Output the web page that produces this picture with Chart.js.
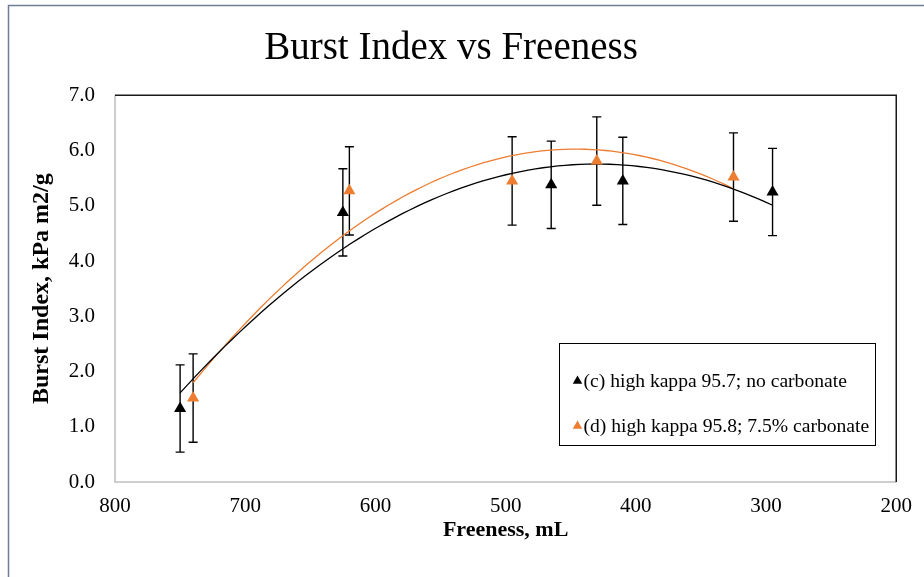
<!DOCTYPE html>
<html><head><meta charset="utf-8">
<script src="https://cdn.jsdelivr.net/npm/chart.js@4"></script>
<style>html,body{margin:0;padding:0;background:#fff}canvas{display:block}</style>
</head><body>
<canvas id="c" width="924" height="577"></canvas>
<script>
// ---- data ----
const chartTitle = 'Burst Index vs Freeness';
const xAxisTitle = 'Freeness, mL';
const yAxisTitle = 'Burst Index, kPa m2/g';
const seriesNames = ['(c) high kappa 95.7; no carbonate', '(d) high kappa 95.8; 7.5% carbonate'];
const freenessC = [750, 625, 465, 410, 295];
const burstC    = [1.33, 4.88, 5.38, 5.45, 5.25];
const errorC    = [0.79, 0.79, 0.79, 0.79, 0.79];
const freenessD = [740, 620, 495, 430, 325];
const burstD    = [1.52, 5.27, 5.45, 5.81, 5.52];
const errorD    = [0.80, 0.80, 0.80, 0.80, 0.80];
const xTicks = [800, 700, 600, 500, 400, 300, 200];
const yTicks = [0, 1, 2, 3, 4, 5, 6, 7];
const colors = ['#000000', '#ED7D31'];

// Excel-style 2nd-order polynomial trendline (least squares on the series values)
function polyfit2(xs, ys) {
  let S = [0,0,0,0,0], T = [0,0,0];
  for (let i = 0; i < xs.length; i++) {
    let p = 1;
    for (let k = 0; k < 5; k++) { S[k] += p; if (k < 3) T[k] += p * ys[i]; p *= xs[i]; }
  }
  const A = [[S[0],S[1],S[2],T[0]],[S[1],S[2],S[3],T[1]],[S[2],S[3],S[4],T[2]]];
  for (let c = 0; c < 3; c++) {
    for (let r = c + 1; r < 3; r++) {
      const f = A[r][c] / A[c][c];
      for (let k = c; k < 4; k++) A[r][k] -= f * A[c][k];
    }
  }
  const coef = [0,0,0];
  for (let r = 2; r >= 0; r--) {
    let s = A[r][3];
    for (let k = r + 1; k < 3; k++) s -= A[r][k] * coef[k];
    coef[r] = s / A[r][r];
  }
  return coef;
}
function trend(xs, ys) {
  const x0 = 500;
  const c = polyfit2(xs.map(v => (v - x0) / 100), ys);
  const lo = Math.min(...xs), hi = Math.max(...xs);
  const pts = [];
  const n = 80;
  for (let i = 0; i <= n; i++) {
    const x = hi - (hi - lo) * i / n;
    const u = (x - x0) / 100;
    pts.push({x: x, y: c[0] + c[1] * u + c[2] * u * u});
  }
  return pts;
}
const toPts = (xs, ys) => xs.map((x, i) => ({x: x, y: ys[i]}));

Chart.defaults.font.family = "'Liberation Serif', 'Times New Roman', serif";
Chart.defaults.color = '#000';

const errorBars = {
  id: 'errorBars',
  beforeDatasetsDraw(chart) {
    const {ctx, scales: {x, y}} = chart;
    ctx.save();
    ctx.strokeStyle = '#000';
    ctx.lineWidth = 1.4;
    chart.data.datasets.forEach(ds => {
      if (!ds.errors) return;
      ds.data.forEach((p, i) => {
        const e = ds.errors[i];
        const px = x.getPixelForValue(p.x);
        const y1 = y.getPixelForValue(p.y + e), y2 = y.getPixelForValue(p.y - e);
        ctx.beginPath();
        ctx.moveTo(px, y1); ctx.lineTo(px, y2);
        ctx.moveTo(px - 4.5, y1); ctx.lineTo(px + 4.5, y1);
        ctx.moveTo(px - 4.5, y2); ctx.lineTo(px + 4.5, y2);
        ctx.stroke();
      });
    });
    ctx.restore();
  }
};

const frame = {
  id: 'frame',
  beforeDatasetsDraw(chart) {
    const {ctx, chartArea: a} = chart;
    ctx.save();
    ctx.lineWidth = 1.5;
    ctx.strokeStyle = '#BFBFBF';
    ctx.beginPath();
    ctx.moveTo(a.left, a.top); ctx.lineTo(a.left, a.bottom); ctx.lineTo(a.right, a.bottom);
    ctx.stroke();
    ctx.strokeStyle = '#1a1a1a';
    ctx.beginPath();
    ctx.moveTo(a.left, a.top); ctx.lineTo(a.right, a.top); ctx.lineTo(a.right, a.bottom);
    ctx.stroke();
    ctx.restore();
  },
  afterDraw(chart) {
    const {ctx} = chart;
    ctx.save();
    ctx.strokeStyle = '#6F7C93';
    ctx.lineWidth = 1.5;
    ctx.strokeRect(8.5, 5.5, 1000, 1000);
    // legend box
    const bx = 559.5, by = 343.5, bw = 316, bh = 102;
    ctx.fillStyle = '#fff';
    ctx.fillRect(bx, by, bw, bh);
    ctx.strokeStyle = '#000';
    ctx.lineWidth = 1;
    ctx.strokeRect(bx, by, bw, bh);
    ctx.font = "19.6px 'Liberation Serif'";
    ctx.textBaseline = 'middle';
    ctx.textAlign = 'left';
    const rows = [382, 427];
    seriesNames.forEach((name, i) => {
      const mx = 577.5, my = rows[i] - 1, r = 5.5;
      ctx.fillStyle = colors[i];
      ctx.beginPath();
      ctx.moveTo(mx, my - r);
      ctx.lineTo(mx + r * 0.866, my + r * 0.5);
      ctx.lineTo(mx - r * 0.866, my + r * 0.5);
      ctx.closePath();
      ctx.fill();
      ctx.fillStyle = '#000';
      ctx.fillText(name, 583.5, rows[i]);
    });
    ctx.restore();
  }
};

new Chart(document.getElementById('c'), {
  data: {
    datasets: [
      {type: 'scatter', label: seriesNames[0], data: toPts(freenessC, burstC), errors: errorC,
       pointStyle: 'triangle', pointRadius: 7, pointHoverRadius: 7,
       backgroundColor: colors[0], borderColor: colors[0], borderWidth: 0, order: 1},
      {type: 'scatter', label: seriesNames[1], data: toPts(freenessD, burstD), errors: errorD,
       pointStyle: 'triangle', pointRadius: 7, pointHoverRadius: 7,
       backgroundColor: colors[1], borderColor: colors[1], borderWidth: 0, order: 1},
      {type: 'line', label: 'trend c', data: trend(freenessC, burstC), borderColor: colors[0],
       borderWidth: 1.3, pointRadius: 0, fill: false, tension: 0, order: 2},
      {type: 'line', label: 'trend d', data: trend(freenessD, burstD), borderColor: colors[1],
       borderWidth: 1.3, pointRadius: 0, fill: false, tension: 0, order: 3}
    ]
  },
  options: {
    responsive: false,
    animation: false,
    devicePixelRatio: 1,
    events: [],
    layout: {padding: {left: 0, right: 22, top: 0, bottom: 0}},
    plugins: {
      legend: {display: false},
      tooltip: {enabled: false},
      title: {display: true, text: chartTitle, color: '#000',
              font: {size: 39, weight: 'normal'}, padding: {top: 25, bottom: 23.5}}
    },
    scales: {
      x: {
        type: 'linear', position: 'bottom', min: 200, max: 800, reverse: true,
        afterBuildTicks: s => { s.ticks = xTicks.map(v => ({value: v})); },
        afterFit: s => { s.height = 95; },
        grid: {display: false, drawTicks: false},
        border: {display: false},
        ticks: {font: {size: 21}, color: '#000', padding: 12, maxRotation: 0, autoSkip: false},
        title: {display: true, text: xAxisTitle, color: '#000',
                font: {size: 22, weight: 'bold'}, padding: {top: 0, bottom: 33}}
      },
      y: {
        type: 'linear', position: 'left', min: 0, max: 7,
        afterBuildTicks: s => { s.ticks = yTicks.map(v => ({value: v})); },
        afterFit: s => { s.width = 115; },
        grid: {display: false, drawTicks: false},
        border: {display: false},
        ticks: {font: {size: 21}, color: '#000', padding: 20, callback: v => Number(v).toFixed(1)},
        title: {display: true, text: yAxisTitle, color: '#000',
                font: {size: 24, weight: 'bold'}, padding: {top: 27, bottom: 0}}
      }
    }
  },
  plugins: [errorBars, frame]
});
</script>
</body></html>
